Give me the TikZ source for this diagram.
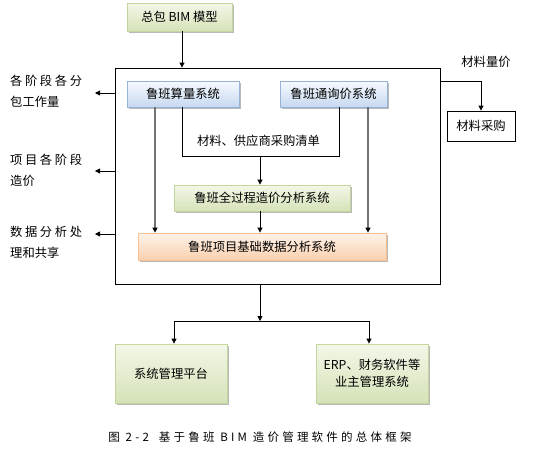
\documentclass[tikz,border=0pt]{standalone}
\usepackage{fontspec}
\setmainfont{Noto Sans CJK SC}
\usetikzlibrary{arrows.meta,shadows,calc}
\begin{document}
\begin{tikzpicture}[x=1pt,y=-1pt,
  every node/.style={font=\fontsize{12.3}{14}\selectfont, inner sep=0pt},
  shad/.style={drop shadow={shadow xshift=1.6pt,shadow yshift=-1.6pt,fill=black!28,opacity=1}},
  arr/.style={-{Triangle[length=5pt,width=5pt]},line width=0.8pt},
  garr/.style={-{Triangle[length=5pt,width=5pt,color=black]},line width=1.1pt,draw=black!55},
  lab/.style={align=left,font=\fontsize{12.3}{21}\selectfont}
]
\useasboundingbox (0,0) rectangle (533,451);
\definecolor{gtop}{HTML}{F3F7E8}\definecolor{gbot}{HTML}{D5E2B8}\definecolor{gbrd}{HTML}{C3D69B}
\definecolor{btop}{HTML}{F7FAFE}\definecolor{bbot}{HTML}{C6D8F0}\definecolor{bbrd}{HTML}{95B3D7}
\definecolor{otop}{HTML}{FEF3EA}\definecolor{obot}{HTML}{FAD0AE}\definecolor{obrd}{HTML}{FAC090}
\tikzset{
  greenbox/.style={shad,draw=gbrd,top color=gtop,bottom color=gbot,line width=0.8pt},
  bluebox/.style={shad,draw=bbrd,top color=btop,bottom color=bbot,line width=0.8pt},
  orangebox/.style={shad,draw=obrd,top color=otop,bottom color=obot,line width=0.8pt}}

% main nodes
\node[greenbox,minimum width=105pt,minimum height=28pt] (bim) at (179.5,17) {总包 BIM 模型};
\node[draw,line width=0.8pt,minimum width=325pt,minimum height=216pt] (big) at (277.5,176) {};
\node[bluebox,minimum width=112pt,minimum height=26pt] (sl) at (183,94) {鲁班算量系统};
\node[bluebox,minimum width=107pt,minimum height=26pt] (xj) at (333.5,94) {鲁班通询价系统};
\node[greenbox,minimum width=176pt,minimum height=26pt] (qgc) at (262,198) {鲁班全过程造价分析系统};
\node[orangebox,minimum width=248pt,minimum height=27pt] (jc) at (262,246.5) {鲁班项目基础数据分析系统};
\node[draw,line width=0.8pt,fill=white,minimum width=68pt,minimum height=30pt] (cg) at (481,126) {材料采购};
\node[greenbox,minimum width=112pt,minimum height=59pt] (pt) at (171,373.5) {系统管理平台};
\node[greenbox,minimum width=112pt,minimum height=59pt,align=center,font=\fontsize{12.3}{17}\selectfont] (erp) at (372,373.5) {ERP、财务软件等\\业主管理系统};

% labels
\node (qd) at (258.5,141) {材料、供应商采购清单};
\node (lj) at (486,62) {材料量价};
\node[lab,anchor=west] (l1) at (10,91) {各\hspace{2.6pt}阶\hspace{2.6pt}段\hspace{2.6pt}各\hspace{2.6pt}分\\包工作量};
\node[lab,anchor=west] (l2) at (10,170) {项\hspace{2.6pt}目\hspace{2.6pt}各\hspace{2.6pt}阶\hspace{2.6pt}段\\造价};
\node[lab,anchor=west] (l3) at (10,242) {数\hspace{2.6pt}据\hspace{2.6pt}分\hspace{2.6pt}析\hspace{2.6pt}处\\理和共享};
\node (cap) at (260,437) {\fontsize{11.5}{13}\selectfont\addfontfeature{LetterSpace=28}图 2-2\hspace{10pt}基于鲁班 BIM 造价管理软件的总体框架};

% coordinates
\coordinate (a1) at (182,107);
\coordinate (a2) at (182,156);
\coordinate (a3) at (339,156);
\coordinate (a4) at (339,107);
\coordinate (mid) at (260,156);
\coordinate (bot) at (260,284);
\coordinate (split) at (260,321);
\coordinate (ll) at (174,321);
\coordinate (rr) at (369,321);

% connectors
\draw[arr] (bim.south -| 182,0) -- (big.north -| 182,0);
\draw[line width=0.8pt] (a1) -- (a2) -- (a3) -- (a4);
\draw[arr] (mid) -- (qgc.north -| mid);
\draw[arr] (qgc.south -| mid) -- (jc.north -| mid);
\draw[garr] (sl.south -| 155,0) -- (jc.north -| 155,0);
\draw[garr] (xj.south -| 368,0) -- (jc.north -| 368,0);

\draw[arr] (big.west |- 0,93) -- (95,93);
\draw[arr] (big.west |- 0,171) -- (95,171);
\draw[arr] (big.west |- 0,234) -- (95,234);

\draw[arr] (big.east |- 0,81) -| (cg.north);

\draw[arr] (bot) -- (split);
\draw[line width=0.8pt] (ll) -- (rr);
\draw[arr] (ll) -- (ll |- pt.north);
\draw[arr] (rr) -- (rr |- erp.north);
\end{tikzpicture}
\end{document}
